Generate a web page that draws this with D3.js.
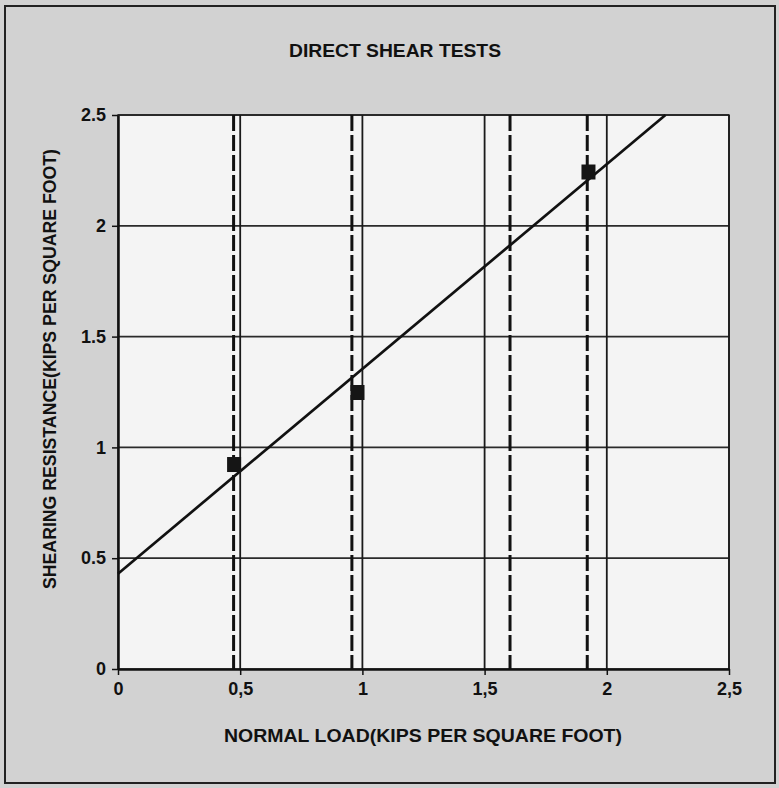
<!DOCTYPE html>
<html>
<head>
<meta charset="utf-8">
<script src="https://cdn.jsdelivr.net/npm/d3@7"></script>
<style>
  body { margin: 0; background: #d2d2d2; }
  svg { display: block; }
  text { font-family: "Liberation Sans", Arial, sans-serif; font-weight: bold; fill: #111; }
</style>
</head>
<body>
<svg id="chart" width="779" height="788"></svg>
<script>
// test points (normal load, shearing resistance), ksf
const normalLoad = [0.475, 0.98, 1.925]
const shearResistance = [0.925, 1.25, 2.245]
// fitted strength envelope, drawn from x=0 to where it leaves the top
const fitLoad = [0, 2.24]
const fitShear = [0.43, 2.5]
// dashed reference lines
const dashedLoads = [0.473, 0.957, 1.604, 1.92]
const xTicks = [0, 0.5, 1, 1.5, 2, 2.5]
const yTicks = [0, 0.5, 1, 1.5, 2, 2.5]
const xTickLabels = ['0', '0,5', '1', '1,5', '2', '2,5']
const yTickLabels = ['0', '0.5', '1', '1.5', '2', '2.5']

const svg = d3.select('#chart')
const plot = {left: 118, right: 729, top: 115, bottom: 669}

const x = d3.scaleLinear().domain([0, 2.5]).range([plot.left, plot.right])
const y = d3.scaleLinear().domain([0, 2.5]).range([plot.bottom, plot.top])

// outer frame
svg.append('rect')
    .attr('x', 5).attr('y', 6)
    .attr('width', 770).attr('height', 777)
    .attr('fill', '#d2d2d2')
    .attr('stroke', '#222')
    .attr('stroke-width', 2)

// plot area
svg.append('rect')
    .attr('x', plot.left).attr('y', plot.top)
    .attr('width', plot.right - plot.left)
    .attr('height', plot.bottom - plot.top)
    .attr('fill', '#f4f4f4')
    .attr('stroke', '#333')
    .attr('stroke-width', 1.5)

// gridlines
svg.append('g')
    .selectAll('line')
    .data(yTicks.slice(1))
    .enter()
    .append('line')
    .attr('x1', plot.left).attr('x2', plot.right)
    .attr('y1', d => y(d)).attr('y2', d => y(d))
    .attr('stroke', '#2a2a2a')
    .attr('stroke-width', 1.8)

svg.append('g')
    .selectAll('line')
    .data(xTicks.slice(1))
    .enter()
    .append('line')
    .attr('x1', d => x(d)).attr('x2', d => x(d))
    .attr('y1', plot.top).attr('y2', plot.bottom)
    .attr('stroke', '#1a1a1a')
    .attr('stroke-width', 1.8)

// dashed verticals
svg.append('g')
    .selectAll('line')
    .data(dashedLoads)
    .enter()
    .append('line')
    .attr('x1', d => x(d)).attr('x2', d => x(d))
    .attr('y1', plot.top).attr('y2', plot.bottom)
    .attr('stroke', '#111')
    .attr('stroke-width', 3)
    .attr('stroke-dasharray', '16,4')

// axes
const xAxis = d3.axisBottom(x)
    .tickValues(xTicks)
    .tickFormat((d, i) => xTickLabels[i])
    .tickSize(6)
    .tickSizeOuter(0)
    .tickPadding(7)
const yAxis = d3.axisLeft(y)
    .tickValues(yTicks)
    .tickFormat((d, i) => yTickLabels[i])
    .tickSize(6)
    .tickSizeOuter(0)
    .tickPadding(6)

const gx = svg.append('g')
    .attr('transform', 'translate(0,' + plot.bottom + ')')
    .call(xAxis)
const gy = svg.append('g')
    .attr('transform', 'translate(' + plot.left + ',0)')
    .call(yAxis)

;[gx, gy].forEach(g => {
    g.select('.domain').attr('stroke', '#111').attr('stroke-width', 2.5)
    g.selectAll('.tick line').attr('stroke', '#111').attr('stroke-width', 1.5)
    g.selectAll('.tick text')
        .style('font-family', '"Liberation Sans", Arial, sans-serif')
        .style('font-weight', 'bold')
        .style('font-size', '18px')
        .attr('fill', '#222')
})

// fit line
const line = d3.line()
    .x(d => x(d[0]))
    .y(d => y(d[1]))
svg.append('path')
    .datum(d3.zip(fitLoad, fitShear))
    .attr('d', line)
    .attr('fill', 'none')
    .attr('stroke', '#111')
    .attr('stroke-width', 2.7)

// markers
svg.append('g')
    .selectAll('rect')
    .data(d3.zip(normalLoad, shearResistance))
    .enter()
    .append('rect')
    .attr('x', d => x(d[0]) - 7)
    .attr('y', d => y(d[1]) - 7)
    .attr('width', 14)
    .attr('height', 15)
    .attr('fill', '#151515')

// titles
svg.append('text')
    .attr('x', 395).attr('y', 57)
    .attr('text-anchor', 'middle')
    .style('font-size', '19px')
    .attr('textLength', 212)
    .attr('lengthAdjust', 'spacingAndGlyphs')
    .text('DIRECT SHEAR TESTS')

svg.append('text')
    .attr('x', 423).attr('y', 742)
    .attr('text-anchor', 'middle')
    .style('font-size', '19px')
    .attr('textLength', 398)
    .attr('lengthAdjust', 'spacingAndGlyphs')
    .text('NORMAL LOAD(KIPS PER SQUARE FOOT)')

svg.append('text')
    .attr('transform', 'translate(56,369) rotate(-90)')
    .attr('text-anchor', 'middle')
    .style('font-size', '18px')
    .attr('textLength', 440)
    .attr('lengthAdjust', 'spacingAndGlyphs')
    .text('SHEARING RESISTANCE(KIPS PER SQUARE FOOT)')
</script>
</body>
</html>
